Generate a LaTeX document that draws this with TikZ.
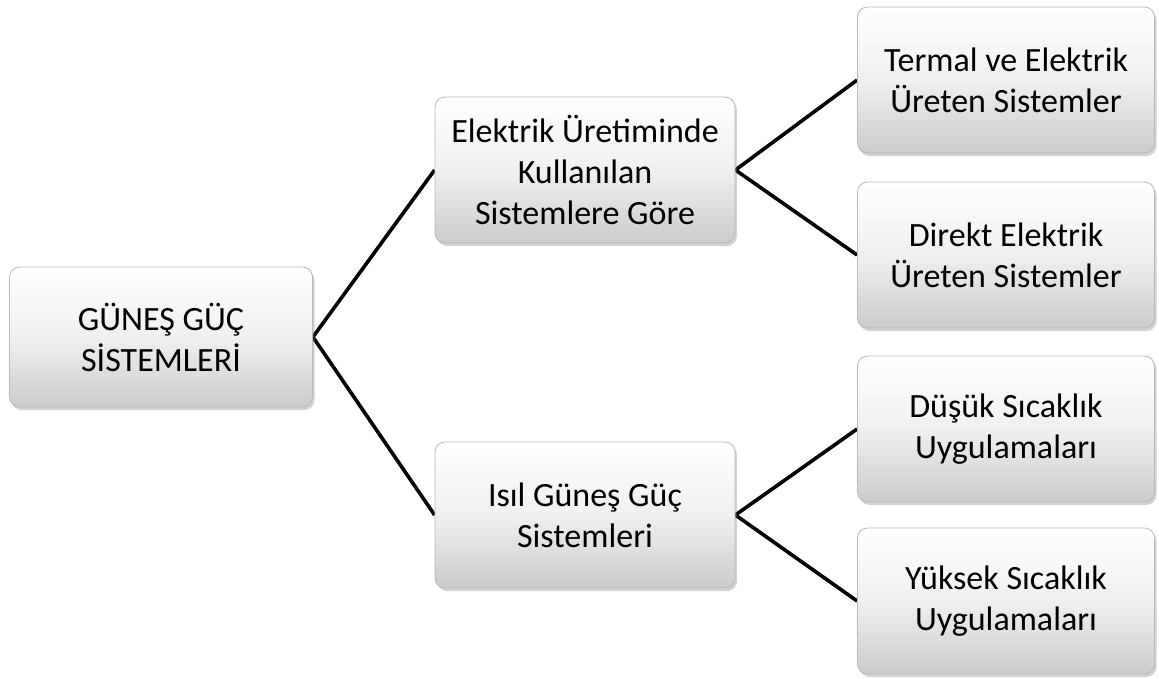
\documentclass[tikz,border=0pt]{standalone}
\usepackage{fontspec}
\setmainfont{Carlito}
\usetikzlibrary{shadows,backgrounds}
\tikzset{
	kutu/.style={rectangle, rounded corners=10pt, draw=gray!55, line width=.8pt,
		top color=white, bottom color=black!20, middle color=black!6,
		drop shadow={shadow xshift=2pt, shadow yshift=-3pt, opacity=.35},
		align=center, font=\fontsize{34}{41}\selectfont, inner sep=0pt,
		minimum width=300pt, minimum height=146pt},
	baglanti/.style={line width=3.6pt, line join=miter}
}
\begin{document}
\begin{tikzpicture}[x=1pt,y=-1pt]
		\useasboundingbox (0,0) rectangle (1159,678);
		% kok
			\node[kutu, minimum width=303pt, minimum height=140pt] (kok) at (161,337) {GÜNEŞ GÜÇ\\SİSTEMLERİ};
		% ara kutular
			\node[kutu] (elektrik) at (585,170) {Elektrik Üretiminde\\Kullanılan\\Sistemlere Göre};
			\node[kutu] (isil) at (585,515) {Isıl Güneş Güç\\Sistemleri};
		% yapraklar
			\node[kutu, minimum width=297pt] (termal) at (1006,80) {Termal ve Elektrik\\Üreten Sistemler};
			\node[kutu, minimum width=297pt] (direkt) at (1006,255) {Direkt Elektrik\\Üreten Sistemler};
			\node[kutu, minimum width=297pt] (dusuk) at (1006,429) {Düşük Sıcaklık\\Uygulamaları};
			\node[kutu, minimum width=297pt] (yuksek) at (1006,601) {Yüksek Sıcaklık\\Uygulamaları};
		% baglantilar
			\begin{scope}[on background layer]
			\foreach \u/\a/\b in {kok/elektrik/isil, elektrik/termal/direkt, isil/dusuk/yuksek}{
				\draw[baglanti] (\a.west) -- (\u.east) -- (\b.west);
				}
			\end{scope}
	\end{tikzpicture}
\end{document}
